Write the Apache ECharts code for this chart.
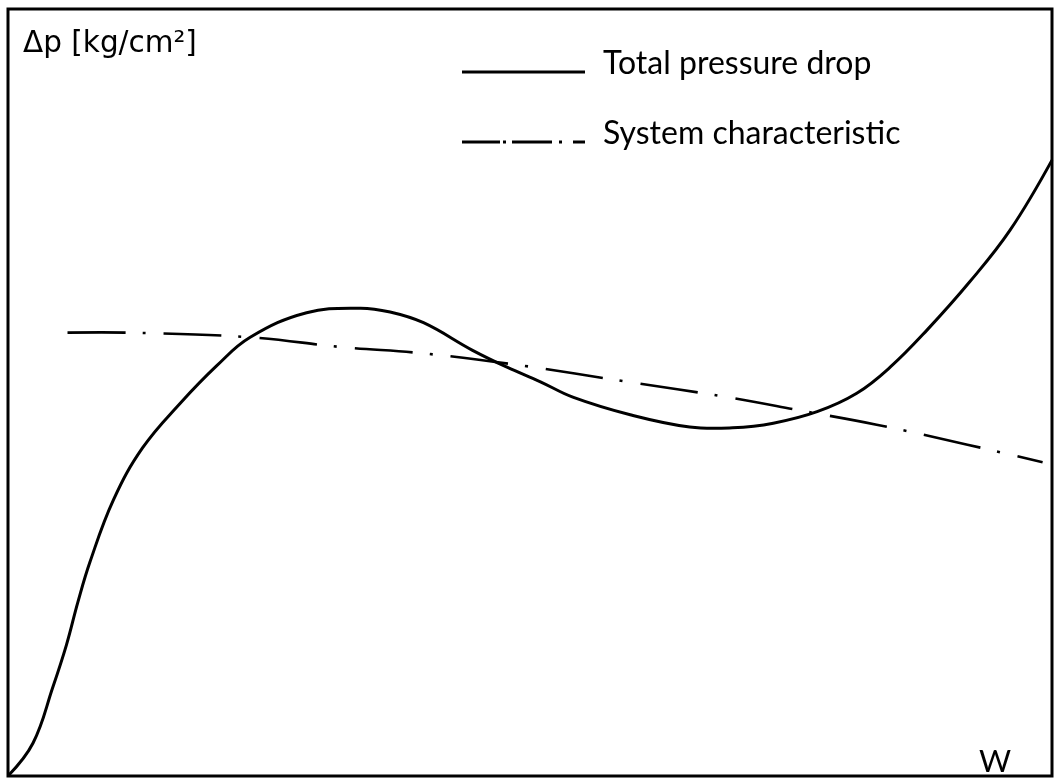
<!DOCTYPE html>
<html>
<head>
<meta charset="utf-8">
<script src="https://cdn.jsdelivr.net/npm/echarts@6/dist/echarts.min.js"></script>
<style>
  html, body { margin: 0; padding: 0; background: #fff; }
  #chart { width: 1055px; height: 778px; }
</style>
</head>
<body>
<div id="chart"></div>
<script>
// W (relative units 0-100) and Δp (relative units 0-100)
const totalW = [0, 2.4, 4.3, 5.6, 6.7, 7.85, 10.1, 12.9, 16.5, 20.0, 23.2, 28.6, 33.7, 36.6, 39.8, 44.5, 47.8, 51.0, 54.1, 59.6, 65.3, 69.4, 73.3, 77.5, 81.3, 84.5, 88.0, 92.1, 96.0, 100];
const totalDp = [0, 4.3, 11.6, 17.1, 22.7, 27.9, 36.0, 42.8, 48.6, 53.5, 57.2, 60.4, 61.0, 60.5, 59.1, 55.5, 53.3, 51.4, 49.4, 47.1, 45.5, 45.4, 46.0, 47.5, 49.9, 53.3, 58.1, 64.4, 71.2, 80.3];
const systemW = [5.7, 11.7, 23.2, 32.1, 39.8, 49.3, 59.3, 68.9, 76.1, 83.2, 91.9, 99.1];
const systemDp = [57.8, 57.8, 57.2, 55.9, 55.1, 53.5, 51.4, 49.4, 47.6, 45.8, 43.2, 40.9];
const seriesNames = ['Total pressure drop', 'System characteristic'];
const yAxisTitle = 'Δp [kg/cm²]';
const xAxisTitle = 'W';

const zip = (xs, ys) => xs.map((x, i) => [x, ys[i]]);

// draws the whole curve once, through the cartesian scales, as a smooth polyline
function curveRenderer(points, style) {
  return function (params, api) {
    if (params.dataIndex !== 0) return null;
    const pts = points.map(p => api.coord(p));
    return {
      type: 'polyline',
      shape: { points: pts, smooth: 0.4 },
      style: Object.assign({ fill: null, stroke: '#000', lineCap: 'butt', lineJoin: 'round' }, style),
      silent: true
    };
  };
}

const totalData = zip(totalW, totalDp);
const systemData = zip(systemW, systemDp);

const chart = echarts.init(document.getElementById('chart'), null, { renderer: 'canvas' });
chart.setOption({
  backgroundColor: '#ffffff',
  animation: false,
  grid: {
    left: 8, top: 9, right: 3, bottom: 2,
    show: true, borderColor: '#000', borderWidth: 3, backgroundColor: '#fff'
  },
  legend: {
    orient: 'vertical',
    left: 462, top: 48, padding: 0,
    itemWidth: 123, itemHeight: 19, itemGap: 38,
    textStyle: { fontFamily: 'Lato', fontSize: 32, color: '#000', padding: [0, 0, 0, 13] },
    itemStyle: { color: '#000', borderWidth: 0 },
    data: [
      { name: seriesNames[0], icon: 'path://M0,-16 M0,0H123V3H0Z' },
      { name: seriesNames[1], icon: 'path://M0,-16 M0,0H38V3H0Z M41,0H44V3H41Z M50,0H90V3H50Z M97,0H100V3H97Z M111,0H123V3H111Z' }
    ]
  },
  xAxis: {
    type: 'value', min: 0, max: 100,
    axisLine: { show: false }, axisTick: { show: false },
    axisLabel: { show: false }, splitLine: { show: false },
    name: xAxisTitle, nameLocation: 'end', nameGap: -57,
    nameTextStyle: { fontFamily: 'Lato', fontSize: 31, lineHeight: 24, color: '#000', verticalAlign: 'bottom', align: 'center', padding: [0, 0, 2, 0] }
  },
  yAxis: {
    type: 'value', min: 0, max: 100,
    axisLine: { show: false }, axisTick: { show: false },
    axisLabel: { show: false }, splitLine: { show: false },
    name: yAxisTitle, nameLocation: 'end', nameGap: -50,
    nameTextStyle: { fontFamily: 'DejaVu Sans', fontSize: 29.5, color: '#000', align: 'left', verticalAlign: 'bottom', padding: [0, 0, 0, 15] }
  },
  series: [
    {
      name: seriesNames[0], type: 'custom', coordinateSystem: 'cartesian2d',
      data: totalData, encode: { x: 0, y: 1 },
      itemStyle: { color: '#000' },
      renderItem: curveRenderer(totalData, { lineWidth: 3 })
    },
    {
      name: seriesNames[1], type: 'custom', coordinateSystem: 'cartesian2d',
      data: systemData, encode: { x: 0, y: 1 },
      itemStyle: { color: '#000' },
      renderItem: curveRenderer(systemData, { lineWidth: 2.6, lineDash: [58, 17, 3, 18] })
    }
  ]
});
</script>
</body>
</html>
